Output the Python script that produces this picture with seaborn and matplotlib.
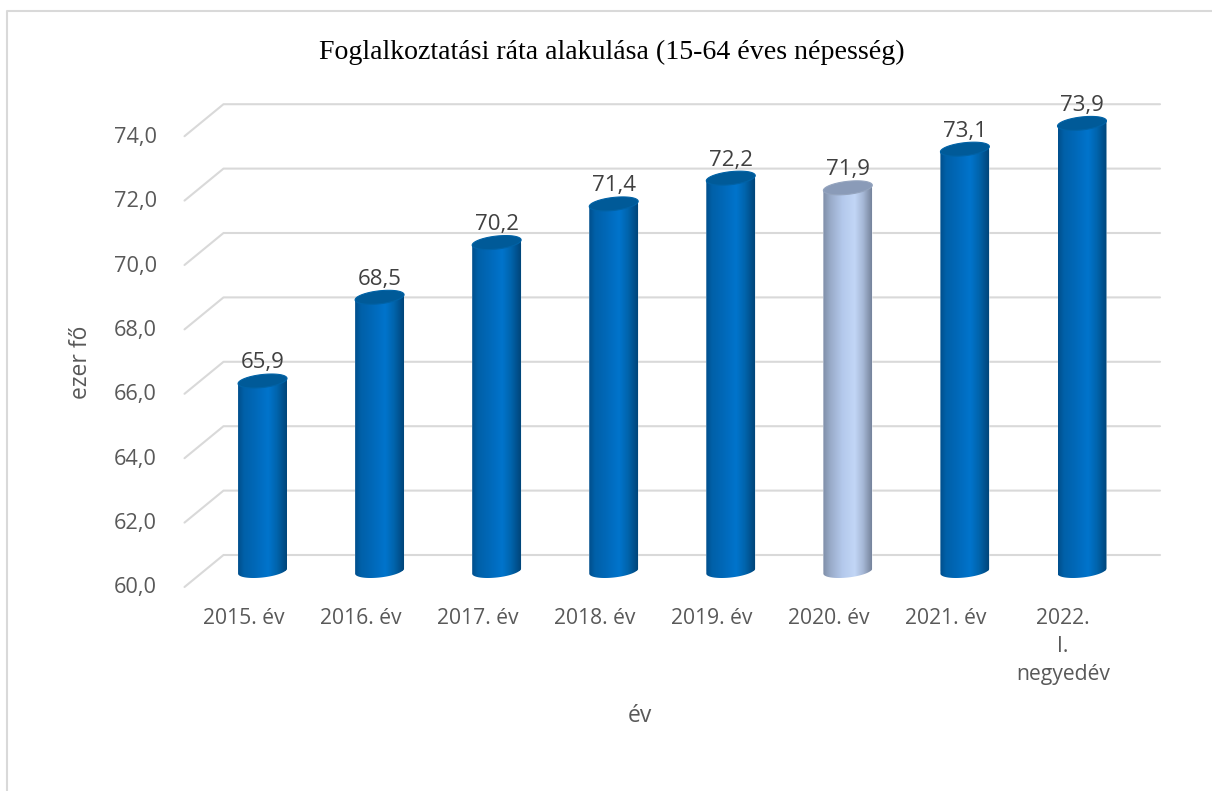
import numpy as np
import pandas as pd
import matplotlib
matplotlib.use("Agg")
import matplotlib.pyplot as plt
import seaborn as sns
from matplotlib.colors import LinearSegmentedColormap
from matplotlib.lines import Line2D
from matplotlib.patches import Polygon
from matplotlib.transforms import ScaledTranslation

# Adatok
evek = ["2015. év", "2016. év", "2017. év", "2018. év", "2019. év", "2020. év", "2021. év", "2022.\nI.\nnegyedév"]
rata = [65.9, 68.5, 70.2, 71.4, 72.2, 71.9, 73.1, 73.9]
y_ticks = [60, 62, 64, 66, 68, 70, 72, 74]
kiemelt = "2020. év"

df = pd.DataFrame({"ev": evek, "rata": rata})

W, H = 1212, 791
sns.set_theme(style="white")
plt.rcParams["font.family"] = ["Open Sans", "DejaVu Sans"]

fig = plt.figure(figsize=(W / 100, H / 100), dpi=100)
# tengely helye pixelben: 60-as szint y=571, kategoriak 117 px-enkent
left, right, bottom, top = 204, 1140.5, 571, 55.8
ax = fig.add_axes([left / W, 1 - bottom / H, (right - left) / W, (bottom - top) / H])

sns.barplot(data=df, x="ev", y="rata", hue="ev", palette=["#0070c0"] * 5 + ["#b8cdf0"] + ["#0070c0"] * 2,
            width=0.418, legend=False, ax=ax)
ax.set_xlim(-0.5, 7.5)
ax.set_ylim(60, 76)
sns.despine(ax=ax, left=True, bottom=True)

px_x = (right - left) / 8
px_y = (bottom - top) / 16
depth_x = 19.5 / px_x
depth_y = 16 / px_y

# racsvonalak: oldalfal + hatso fal
for t in y_ticks:
    ax.plot([-0.5 - depth_x, -0.5 + depth_x, 7.5 + depth_x],
            [t - depth_y, t + depth_y, t + depth_y],
            color="#d9d9d9", lw=1.5, clip_on=False, zorder=0.5)

blue = LinearSegmentedColormap.from_list("kek", [(0, "#004f8c"), (0.12, "#0060a8"), (0.35, "#0068b8"),
                                                 (0.62, "#0074cc"), (0.8, "#0064ac"), (1, "#00457a")])
light = LinearSegmentedColormap.from_list("vilagos", [(0, "#7f8ea8"), (0.15, "#99abc9"), (0.4, "#b4c9ec"),
                                                      (0.65, "#c2d6f6"), (0.82, "#a6b8d6"), (1, "#76849c")])

t_arc = np.linspace(0, 2 * np.pi, 121)
b = 6.5 / px_y
s = 2.6 / px_y

for bar, ev in zip([c[0] for c in ax.containers], evek):
    x0, w, v = bar.get_x(), bar.get_width(), bar.get_height()
    cx = x0 + w / 2
    ex = cx + w / 2 * np.cos(t_arc)
    shear = s * np.cos(t_arc)
    is_light = ev == kiemelt

    # henger test: also iv + felso lezaras
    front = t_arc[60:121]
    fx = cx + w / 2 * np.cos(front)
    fy = 60 + b * np.sin(front) + s * np.cos(front)
    body = Polygon(np.vstack([np.column_stack([fx, fy]),
                              [[x0 + w, v + s], [x0, v - s]]]),
                   closed=True, transform=ax.transData)
    bar.set_clip_path(body)

    im = ax.imshow(np.linspace(0, 1, 200).reshape(1, -1), cmap=light if is_light else blue,
                   extent=[x0, x0 + w, 60 - 2 * b, v + b + s], aspect="auto", zorder=2)
    im.set_clip_path(body)
    im.set_clip_box(fig.bbox)

    ax.add_patch(Polygon(np.column_stack([ex, v + b * np.sin(t_arc) + shear]), closed=True,
                         facecolor="#8a9bb8" if is_light else "#005a98",
                         edgecolor="#94a4be" if is_light else "#0062a6", lw=0.8, zorder=3))

ax.set_xlim(-0.5, 7.5)
ax.set_ylim(60, 76)

# adatfeliratok tizedesvesszovel
for cont, v in zip(ax.containers, rata):
    ax.bar_label(cont, labels=[f"{v:.1f}".replace(".", ",")], padding=5.5, fontsize=16, color="#404040", zorder=5)

ax.set_yticks(y_ticks, [f"{t:.1f}".replace(".", ",") for t in y_ticks])
ax.tick_params(axis="y", length=0, pad=34, labelsize=15.7, labelcolor="#595959")
ax.tick_params(axis="x", length=0, pad=27, labelsize=15.2, labelcolor="#595959")
for lab in ax.get_xticklabels():
    lab.set_transform(lab.get_transform() + ScaledTranslation(-19 / 100, 0, fig.dpi_scale_trans))
    lab.set_linespacing(1.43)
for lab in ax.get_yticklabels():
    lab.set_transform(lab.get_transform() + ScaledTranslation(0, -14.5 / 100, fig.dpi_scale_trans))

ax.set_xlabel("év", fontsize=16.5, color="#595959")
ax.set_ylabel("ezer fő", fontsize=16.5, color="#595959")
ax.xaxis.set_label_coords((640 - left) / (right - left), (bottom - 716) / (bottom - top), transform=ax.transAxes)
ax.xaxis.label.set_verticalalignment("center")
ax.yaxis.set_label_coords((81 - left) / (right - left), (bottom - 362) / (bottom - top), transform=ax.transAxes)
ax.yaxis.label.set_verticalalignment("center")

fig.text(612 / W, 1 - 52 / H, "Foglalkoztatási ráta alakulása (15-64 éves népesség)",
         family="Liberation Serif", fontsize=20.1, color="black", ha="center", va="center")

# diagram kerete (csak bal es felso el latszik)
fig.add_artist(Line2D([7 / W, 7 / W, 1], [0, 1 - 11 / H, 1 - 11 / H], color="#d9d9d9", lw=1.5))

fig.savefig("out.png", dpi=100)
